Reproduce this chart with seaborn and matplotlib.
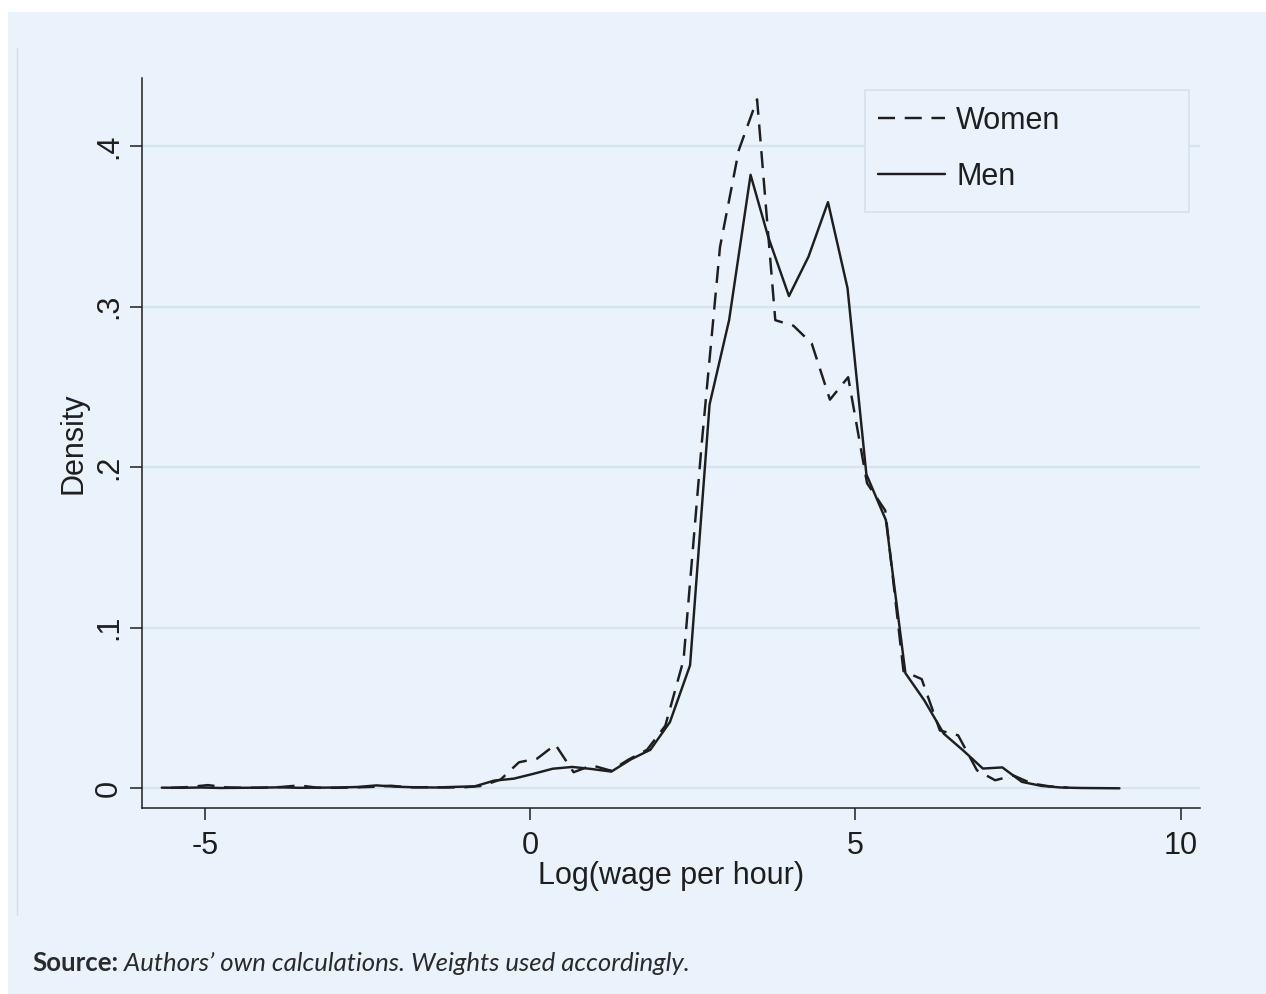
import matplotlib
matplotlib.use("Agg")
import matplotlib.pyplot as plt
from matplotlib.lines import Line2D
from matplotlib.patches import Rectangle
import seaborn as sns
import pandas as pd

# ---------------- data ----------------
men_x = [-5.66, -5.36, -5.06, -4.76, -4.46, -4.16, -3.86, -3.56, -3.26, -2.96,
         -2.66, -2.36, -2.06, -1.75, -1.45, -1.15, -0.85, -0.55, -0.25, 0.05,
         0.35, 0.65, 0.95, 1.25, 1.55, 1.85, 2.15, 2.46, 2.76, 3.06,
         3.39, 3.66, 3.98, 4.28, 4.58, 4.88, 5.17, 5.47, 5.77, 6.06,
         6.36, 6.66, 6.96, 7.26, 7.56, 7.86, 8.16, 8.46, 8.76, 9.06]
men_y = [0.0004, 0.0003, 0.0005, 0.0002, 0.0003, 0.0004, 0.0006, 0.0003, 0.0004, 0.0005,
         0.0008, 0.0018, 0.0010, 0.0006, 0.0005, 0.0009, 0.0012, 0.0048, 0.0060, 0.0090,
         0.0122, 0.0133, 0.0120, 0.0104, 0.0180, 0.0240, 0.0412, 0.0766, 0.2390, 0.2915,
         0.3820, 0.3435, 0.3065, 0.3310, 0.3650, 0.3115, 0.1955, 0.1670, 0.0717, 0.0548,
         0.0340, 0.0235, 0.0123, 0.0130, 0.0040, 0.0015, 0.0005, 0.0002, 0.0001, 0.0000]

women_x = [-5.52, -5.24, -4.95, -4.67, -4.39, -4.11, -3.83, -3.55, -3.27, -2.99,
           -2.70, -2.42, -2.14, -1.86, -1.58, -1.30, -1.02, -0.74, -0.45, -0.17,
           0.11, 0.39, 0.67, 0.95, 1.24, 1.52, 1.80, 2.08, 2.36, 2.64,
           2.92, 3.21, 3.49, 3.77, 4.05, 4.33, 4.61, 4.89, 5.18, 5.46,
           5.74, 6.02, 6.30, 6.58, 6.87, 7.15, 7.43, 7.71, 7.99, 8.27]
women_y = [0.0003, 0.0008, 0.0020, 0.0006, 0.0003, 0.0004, 0.0008, 0.0018, 0.0004, 0.0003,
           0.0005, 0.0009, 0.0016, 0.0006, 0.0007, 0.0005, 0.0006, 0.0015, 0.0055, 0.0162,
           0.0185, 0.0272, 0.0100, 0.0143, 0.0110, 0.0180, 0.0240, 0.0390, 0.0800, 0.2150,
           0.3370, 0.3975, 0.4290, 0.2915, 0.2880, 0.2770, 0.2420, 0.2560, 0.1900, 0.1730,
           0.0730, 0.0680, 0.0360, 0.0330, 0.0112, 0.0050, 0.0080, 0.0030, 0.0012, 0.0004]

series_names = ["Women", "Men"]
x_ticks = [-5, 0, 5, 10]
x_tick_labels = ["-5", "0", "5", "10"]
y_ticks = [0, 0.1, 0.2, 0.3, 0.4]
y_tick_labels = ["0", ".1", ".2", ".3", ".4"]
x_title = "Log(wage per hour)"
y_title = "Density"
source_bold = "Source:"
source_rest = " Authors\u2019 own calculations. Weights used accordingly."

# ---------------- styling ----------------
sns.set_theme(style="white")
plt.rcParams["font.family"] = ["Liberation Sans", "DejaVu Sans"]

BG = "#EAF2FB"
GRID = "#D5E4F1"
INK = "#1E1E1E"
LW = 1.75

W, H = 1266, 994
fig = plt.figure(figsize=(W / 100, H / 100), dpi=100)
fig.patch.set_facecolor("white")

# light blue panel (behind everything)
fig.patches.append(Rectangle((8 / W, 0), 1 - 8 / W, 1 - 12 / H, transform=fig.transFigure,
                             facecolor=BG, edgecolor="none", zorder=-10))
# faint inner graph-region edge
fig.add_artist(Line2D([17 / W, 17 / W], [1 - 48 / H, 1 - 915 / H], transform=fig.transFigure,
                      color="#D3E0EC", lw=1.0, zorder=-5))

ax = fig.add_axes([142 / W, 1 - 808 / H, (1200 - 142) / W, (808 - 78) / H])
ax.set_facecolor("none")
ax.set_zorder(5)

df = pd.concat([
    pd.DataFrame({"x": women_x, "y": women_y, "group": series_names[0]}),
    pd.DataFrame({"x": men_x, "y": men_y, "group": series_names[1]}),
])

dash = (0, (7, 4))
sns.lineplot(data=df[df.group == "Women"], x="x", y="y", ax=ax, color=INK, lw=LW,
             linestyle=dash, estimator=None, sort=False, zorder=3)
sns.lineplot(data=df[df.group == "Men"], x="x", y="y", ax=ax, color=INK, lw=LW,
             linestyle="-", estimator=None, sort=False, zorder=3)

ax.set_xlim(-5.964, 10.298)
ax.set_ylim(-0.01227, 0.4423)

for yv in y_ticks:
    ax.axhline(yv, color=GRID, lw=1.6, zorder=1)

for s in ["top", "right"]:
    ax.spines[s].set_visible(False)
for s in ["left", "bottom"]:
    ax.spines[s].set_color(INK)
    ax.spines[s].set_linewidth(1.1)

ax.set_xticks(x_ticks)
ax.set_xticklabels(x_tick_labels)
ax.set_yticks(y_ticks)
ax.set_yticklabels(y_tick_labels, rotation=90, va="center")
ax.tick_params(axis="both", direction="out", length=8.6, width=1.1, color=INK,
               labelsize=22, labelcolor=INK, left=True, bottom=True)
ax.tick_params(axis="y", pad=4.5)
ax.tick_params(axis="x", pad=8)

ax.set_xlabel(x_title, fontsize=22, color=INK)
ax.set_ylabel(y_title, fontsize=22, color=INK)
ax.xaxis.set_label_coords(0.5, -0.072)
ax.yaxis.set_label_coords(-0.0501, 0.5)

# legend frame (drawn separately to match the reference box) + legend entries
ax.add_patch(Rectangle((0.6834, 0.8164), 0.3062, 0.1672, transform=ax.transAxes,
                       facecolor=BG, edgecolor="#D3E2EF", lw=1.2, zorder=6))
handles = [Line2D([0], [0], color=INK, lw=LW, linestyle=dash),
           Line2D([0], [0], color=INK, lw=LW, linestyle="-")]
leg = ax.legend(handles, series_names, loc="upper left",
                bbox_to_anchor=(0.6834, 0.9795), frameon=False,
                fontsize=22, borderpad=0.42, handlelength=2.2, handletextpad=0.36,
                labelspacing=0.86, borderaxespad=0)
leg.set_zorder(7)
for t in leg.get_texts():
    t.set_color(INK)

# source note
fig.canvas.draw()
r = fig.canvas.get_renderer()
t1 = fig.text(32 / W, 1 - 971 / H, source_bold, fontsize=18.5, fontweight="bold",
              family="Lato", color="#2A2A2A", va="baseline")
bb = t1.get_window_extent(renderer=r)
fig.text(bb.x1 / W, 1 - 971 / H, source_rest, fontsize=18.5, style="italic",
         family="Lato", color="#2A2A2A", va="baseline")

fig.savefig("out.png", dpi=100, facecolor=fig.get_facecolor())
